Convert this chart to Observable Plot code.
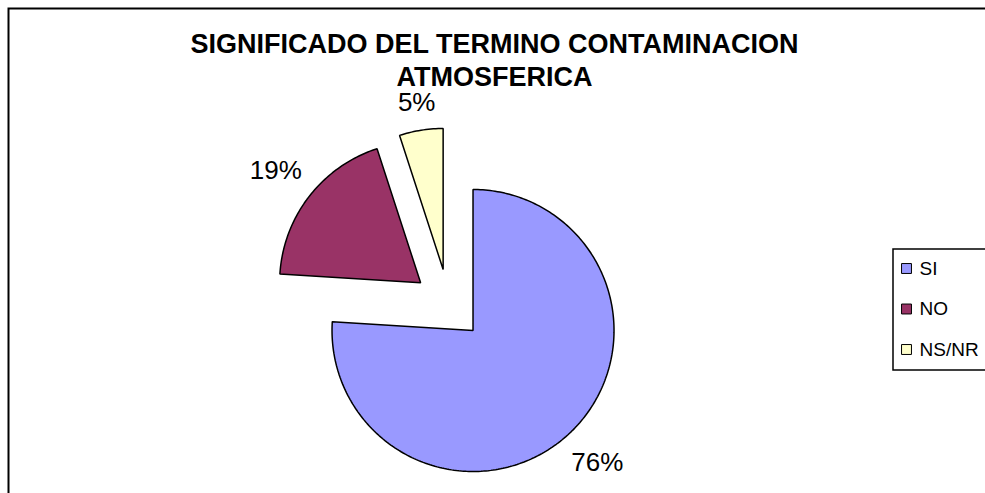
<!DOCTYPE html>
<html><head><meta charset="utf-8">
<script src="https://cdn.jsdelivr.net/npm/d3@7"></script>
<script src="https://cdn.jsdelivr.net/npm/@observablehq/plot@0.6"></script>
<style>html,body{margin:0;padding:0;background:#fff;overflow:hidden;}</style>
</head><body><div id="chart"></div>
<script>
// ---- data ----
const categories = ["SI", "NO", "NS/NR"];
const values = [76, 19, 5];
const colors = ["#9999FF", "#993366", "#FFFFCC"];
const titleLines = ["SIGNIFICADO DEL TERMINO CONTAMINACION", "ATMOSFERICA"];

// ---- layout ----
const W = 985, H = 493, CX = 448.2, CY = 304.1, R = 141, EXPLODE = 0.252;
const px = v => (v - CX) / R, py = v => (CY - v) / R;
const FONT = "'Liberation Sans', Arial, sans-serif";

const arcs = d3.pie().sort(null).value(d => d)(values);
const slices = arcs.map((a, i) => {
  const mid = (a.startAngle + a.endAngle) / 2;
  return {cat: categories[i], value: values[i], a0: a.startAngle, a1: a.endAngle, mid,
          ox: EXPLODE * Math.sin(mid), oy: EXPLODE * Math.cos(mid)};
});

const outline = slices.flatMap(s => {
  const n = Math.max(2, Math.ceil((s.a1 - s.a0) / (Math.PI / 180)));
  const pts = [{cat: s.cat, x: s.ox, y: s.oy}];
  for (let k = 0; k <= n; k++) {
    const a = s.a0 + (s.a1 - s.a0) * k / n;
    pts.push({cat: s.cat, x: s.ox + Math.sin(a), y: s.oy + Math.cos(a)});
  }
  return pts;
});

const FS = 26;
const labels = slices.map(s => {
  const txt = `${s.value}%`;
  const hw = FS * (0.556 * (txt.length - 1) + 0.889) / 2, hh = FS * 0.36;
  const d = (R + 16 + hw * Math.abs(Math.sin(s.mid)) + hh * Math.abs(Math.cos(s.mid))) / R;
  return {text: txt, x: s.ox + d * Math.sin(s.mid), y: s.oy + d * Math.cos(s.mid)};
});

const legend = categories.map((c, i) => ({cat: c, x: px(906), tx: px(919), y: py(268 + i * 40.5)}));

const chart = Plot.plot({
  width: W, height: H, margin: 0,
  x: {domain: [px(0), px(W)], axis: null},
  y: {domain: [py(H), py(0)], axis: null},
  color: {domain: categories, range: colors},
  style: {fontFamily: FONT, background: "white", color: "black"},
  marks: [
    Plot.frame({stroke: "black", strokeWidth: 2, insetLeft: 8, insetTop: 8, insetRight: -30, insetBottom: -30}),
    Plot.line(outline, {x: "x", y: "y", z: "cat", fill: "cat", stroke: "black", strokeWidth: 1.5,
                        curve: "linear-closed", strokeLinejoin: "miter"}),
    Plot.text(labels, {x: "x", y: "y", text: "text", fontSize: FS, fill: "black",
                       textAnchor: "middle", lineAnchor: "middle"}),
    Plot.text(titleLines, {x: () => px(494), y: (d, i) => py(43.5 + i * 33.5), text: d => d,
                           fontSize: 27, fontWeight: "bold", fill: "black",
                           textAnchor: "middle", lineAnchor: "middle"}),
    Plot.rect([0], {x1: () => px(893), x2: () => px(1010), y1: () => py(249), y2: () => py(370),
                    fill: "white", stroke: "black", strokeWidth: 1.5}),
    Plot.dot(legend, {x: "x", y: "y", fill: "cat", symbol: "square", r: 5.6, stroke: "black", strokeWidth: 1}),
    Plot.text(legend, {x: "tx", y: "y", text: "cat", textAnchor: "start", fontSize: 19, fill: "black",
                       lineAnchor: "middle"})
  ]
});
document.getElementById("chart").append(chart);
</script>
</body></html>
